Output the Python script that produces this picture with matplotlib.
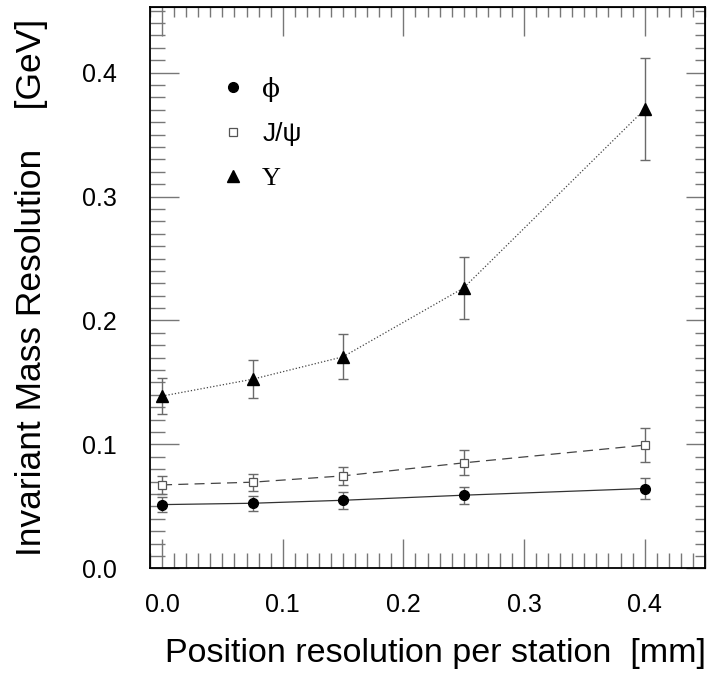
import matplotlib
matplotlib.use("Agg")
import matplotlib.pyplot as plt
from matplotlib.lines import Line2D
from matplotlib.ticker import MultipleLocator

plt.rcParams['font.family'] = ['Liberation Sans', 'DejaVu Sans']

# Data
pos_res = [0.0, 0.075, 0.15, 0.25, 0.4]
phi_val = [0.0514, 0.0525, 0.0549, 0.0590, 0.0644]
phi_err = [0.0060, 0.0060, 0.0070, 0.0068, 0.0081]
jpsi_val = [0.0673, 0.0695, 0.0746, 0.0851, 0.0994]
jpsi_err = [0.0070, 0.0068, 0.0072, 0.0100, 0.0139]
ups_val = [0.1390, 0.1526, 0.1707, 0.2263, 0.3704]
ups_err = [0.0142, 0.0153, 0.0183, 0.0253, 0.0411]
x_ticks = [0.0, 0.1, 0.2, 0.3, 0.4]
y_ticks = [0.0, 0.1, 0.2, 0.3, 0.4]

fig = plt.figure(figsize=(7.1, 6.79), dpi=100)
ax = fig.add_axes([150/710, 1-568.3/679, (705-150)/710, (568.3-7)/679])

ecol = '#6a6a6a'
# error bars
for v, e in ((phi_val, phi_err), (jpsi_val, jpsi_err), (ups_val, ups_err)):
    ax.errorbar(pos_res, v, yerr=e, fmt='none', ecolor=ecol, elinewidth=1.0,
                capsize=3.5, capthick=1.0, zorder=2)

ax.plot(pos_res, phi_val, color='#333333', lw=0.9, ls='-', zorder=3)
ax.plot(pos_res, jpsi_val, color='#444444', lw=0.9, ls=(0, (8, 5)), zorder=3)
ax.plot(pos_res, ups_val, color='#444444', lw=0.9, ls=(0, (1, 1.6)), zorder=3)

ax.plot(pos_res, phi_val, ls='none', marker='o', ms=7, mfc='black', mec='black', zorder=4)
ax.plot(pos_res, jpsi_val, ls='none', marker='s', ms=6.4, mfc='white', mec='#555555', mew=0.9, zorder=4)
ax.plot(pos_res, ups_val, ls='none', marker='^', ms=8, mfc='black', mec='black', zorder=4)

ax.set_xlim(-0.01, 0.45)
ax.set_ylim(0.0, 0.453)
ax.set_xticks(x_ticks)
ax.set_yticks(y_ticks)
ax.set_xticklabels([f"{t:.1f}" for t in x_ticks])
ax.set_yticklabels([f"{t:.1f}" for t in y_ticks])
ax.xaxis.set_minor_locator(MultipleLocator(0.01))
ax.yaxis.set_minor_locator(MultipleLocator(0.01))

tcol = '#777777'
ax.tick_params(which='both', direction='in', color=tcol, width=1.0, labelsize=18)
ax.tick_params(which='major', length=21)
ax.tick_params(which='minor', length=11)
ax.tick_params(axis='x', which='major', pad=18)
ax.tick_params(axis='y', which='major', pad=24)

for s in ax.spines.values():
    s.set_linewidth(1.3)
    s.set_color('black')

# top / right ticks
secx = ax.secondary_xaxis('top')
secx.set_xticks(x_ticks)
secx.xaxis.set_minor_locator(MultipleLocator(0.01))
secx.tick_params(which='both', direction='in', color=tcol, width=1.0, labeltop=False)
secx.tick_params(which='major', length=21)
secx.tick_params(which='minor', length=7)
secy = ax.secondary_yaxis('right')
secy.set_yticks(y_ticks)
secy.yaxis.set_minor_locator(MultipleLocator(0.01))
secy.tick_params(which='both', direction='in', color=tcol, width=1.0, labelright=False)
secy.tick_params(which='major', length=14)
secy.tick_params(which='minor', length=7)

ax.set_xlabel("Position resolution per station  [mm]", fontsize=24.5)
ax.xaxis.set_label_coords(0.515, -0.125)
ax.set_ylabel("Invariant Mass Resolution    [GeV]", fontsize=25.5, labelpad=24)

handles = [
    Line2D([], [], ls='none', marker='o', ms=7, mfc='black', mec='black'),
    Line2D([], [], ls='none', marker='s', ms=6.4, mfc='white', mec='#555555', mew=0.9),
    Line2D([], [], ls='none', marker='^', ms=8, mfc='black', mec='black'),
]
labels = ['\u03d5', 'J/\u03c8', '\u03a5']
leg = ax.legend(handles, labels, loc='upper left', bbox_to_anchor=(0.126, 0.876),
                frameon=False, fontsize=19, labelspacing=0.78, handlelength=1.0,
                handletextpad=0.6, borderpad=0, borderaxespad=0)
leg.get_texts()[0].set_fontfamily(['DejaVu Serif'])
leg.get_texts()[2].set_fontfamily(['Liberation Serif', 'DejaVu Serif'])

fig.savefig("out.png", dpi=100)
